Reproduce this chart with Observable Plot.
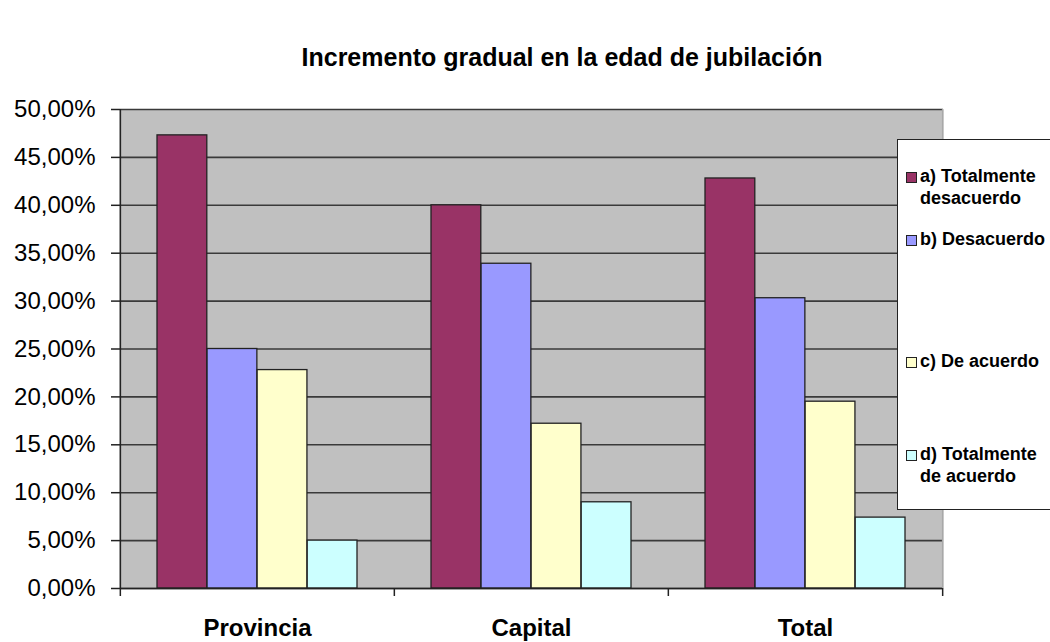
<!DOCTYPE html>
<html>
<head>
<meta charset="utf-8">
<script src="https://cdn.jsdelivr.net/npm/d3@7"></script>
<script src="https://cdn.jsdelivr.net/npm/@observablehq/plot@0.6"></script>
<style>
  html, body { margin: 0; padding: 0; background: #fff; }
  #wrap { position: relative; width: 1050px; height: 642px; overflow: hidden; font-family: "Liberation Sans", Arial, sans-serif; }
  #title { position: absolute; left: 562px; top: 45px; transform: translateX(-50%); white-space: nowrap;
           font-size: 25px; line-height: 25px; font-weight: bold; color: #000; }
  #legend { position: absolute; left: 897px; top: 139px; width: 170px; height: 371px; background: #fff;
            border: 1.5px solid #222; box-sizing: border-box; }
  .item { position: absolute; left: 8px; font-size: 18px; font-weight: bold; line-height: 21.5px; color: #000; }
  .sw { position: absolute; left: 0; top: 6px; width: 9px; height: 9px; border: 1px solid #222; }
  .lab { position: absolute; left: 14px; white-space: nowrap; }
</style>
</head>
<body>
<div id="wrap">
  <div id="chart"></div>
  <div id="title">Incremento gradual en la edad de jubilación</div>
  <div id="legend"></div>
</div>
<script>
const categories = ["Provincia", "Capital", "Total"];
const series = ["a) Totalmente desacuerdo", "b) Desacuerdo", "c) De acuerdo", "d) Totalmente de acuerdo"];
const legendLines = [["a) Totalmente", "desacuerdo"], ["b) Desacuerdo"], ["c) De acuerdo"], ["d) Totalmente", "de acuerdo"]];
const colors = ["#993366", "#9999FF", "#FFFFCC", "#CCFFFF"];
// values in percent, per series, in category order
const totDesacuerdo = [47.3, 40.0, 42.8];
const desacuerdo = [25.0, 33.9, 30.3];
const deAcuerdo = [22.8, 17.2, 19.5];
const totDeAcuerdo = [5.0, 9.0, 7.4];
const yTicks = [0, 5, 10, 15, 20, 25, 30, 35, 40, 45, 50];

const seriesValues = [totDesacuerdo, desacuerdo, deAcuerdo, totDeAcuerdo];
const data = [];
series.forEach((s, i) => categories.forEach((c, j) => data.push({category: c, series: s, si: i, value: seriesValues[i][j]})));

const W = 1050, H = 642, ML = 120, MR = 107, MT = 109, MB = 54;
const step = (W - ML - MR) / categories.length;
const pInner = 0.27;
const bw = step * (1 - pInner);
const fmt = d => d.toFixed(2).replace(".", ",") + "%";

const barMarks = series.map((s, i) => Plot.barY(data.filter(d => d.si === i), {
  x: "category", y: "value", fill: colors[i], stroke: "#222", strokeWidth: 1.3,
  insetLeft: i * bw / 4, insetRight: (3 - i) * bw / 4
}));

const chart = Plot.plot({
  width: W, height: H,
  marginLeft: ML, marginRight: MR, marginTop: MT, marginBottom: MB,
  style: {fontFamily: "'Liberation Sans', Arial, sans-serif", background: "transparent"},
  x: {domain: categories, paddingInner: pInner, paddingOuter: pInner / 2, align: 0.5},
  y: {domain: [0, 50]},
  marks: [
    Plot.frame({fill: "#c0c0c0", stroke: null}),
    Plot.ruleY(yTicks, {stroke: "#3a3a3a", strokeWidth: 1.6}),
    ...barMarks,
    Plot.ruleY([0], {stroke: "#222", strokeWidth: 1.6}),
    Plot.ruleX([categories[0]], {dx: -step / 2, stroke: "#222", strokeWidth: 1.6}),
    Plot.ruleX([categories[categories.length - 1]], {dx: step / 2, stroke: "#a8a8a8", strokeWidth: 1.5}),
    Plot.ruleX(categories, {x: d => d, dx: -step / 2, y1: 0, y2: 0, insetBottom: -8, stroke: "#222", strokeWidth: 1.5}),
    Plot.ruleX([categories[categories.length - 1]], {dx: step / 2, y1: 0, y2: 0, insetBottom: -8, stroke: "#222", strokeWidth: 1.5}),
    Plot.axisY({ticks: yTicks, tickFormat: fmt, tickSize: 9, tickPadding: 16, fontSize: 24, stroke: "#222", strokeWidth: 1.5, color: "#000", label: null}),
    Plot.axisX({tickSize: 0, tickPadding: 30, fontSize: 24, fontWeight: "bold", color: "#000", label: null})
  ]
});
document.getElementById("chart").appendChild(chart);

const legend = document.getElementById("legend");
const centers = [37, 100, 222, 315];
legendLines.forEach((lines, i) => {
  const it = document.createElement("div");
  it.className = "item";
  it.style.top = (centers[i] - 11) + "px";
  const sw = document.createElement("div");
  sw.className = "sw";
  sw.style.background = colors[i];
  it.appendChild(sw);
  const lab = document.createElement("div");
  lab.className = "lab";
  lab.innerHTML = lines.join("<br>");
  it.appendChild(lab);
  legend.appendChild(it);
});
</script>
</body>
</html>
